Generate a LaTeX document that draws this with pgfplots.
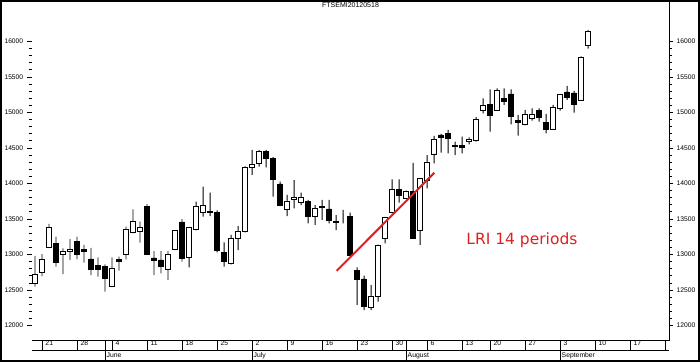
\documentclass[border=0pt]{standalone}
\usepackage{pgfplots}
\pgfplotsset{compat=1.18}
\usepackage{pgfplotstable}
\usepackage{fontspec}
\setmainfont{Liberation Sans}
\newfontfamily\dvs{DejaVu Sans}
\definecolor{lrired}{RGB}{222,32,32}

% i = trading day (18 May 2012 = 0), o h l c
\pgfplotstableread{
i o h l c
0 12594 12979 12546 12721
1 12749 13007 12697 12932
2 13101 13430 13090 13383
3 13158 13251 12828 12885
4 13003 13087 12725 13040
5 13045 13218 12923 13077
6 13190 13251 12932 12997
7 13077 13134 12885 13040
8 12937 13092 12711 12796
9 12852 12961 12687 12796
10 12838 12862 12476 12659
11 12546 12961 12540 12806
12 12935 12969 12772 12905
13 13007 13392 12932 13355
14 13313 13637 13299 13472
15 13327 13462 13166 13383
16 13673 13711 12990 13003
17 12951 13049 12711 12913
18 12923 13049 12735 12828
19 12792 13049 12641 13003
20 13073 13345 13060 13335
21 13458 13500 12899 12941
22 12961 13390 12820 13383
23 13359 13744 13340 13683
24 13594 13955 13532 13697
25 13605 13870 13540 13590
26 13594 13620 13030 13054
27 13031 13172 12828 12899
28 12876 13275 12860 13228
29 13228 13401 13063 13331
30 13321 14240 13310 14228
31 14228 14472 14120 14270
32 14285 14472 14237 14458
33 14448 14472 14228 14355
34 14355 14370 13814 14059
35 13993 14025 13680 13687
36 13637 13838 13542 13754
37 13778 14049 13651 13806
38 13735 13870 13697 13800
39 13744 13768 13440 13532
40 13542 13697 13416 13651
41 13670 13768 13486 13660
42 13641 13768 13440 13476
43 13460 13556 13345 13450
44 13594 13627 13440 13594
45 13542 13589 12980 12993
46 12772 12820 12289 12655
47 12655 12701 12218 12265
48 12256 12570 12218 12416
49 12406 13140 12335 13134
50 13228 13530 13158 13524
51 13594 14059 13580 13918
52 13918 14059 13730 13838
53 13792 13900 13780 13885
54 13885 14289 13220 13228
55 13345 14080 13134 14073
56 14049 14401 13932 14299
57 14416 14669 14285 14622
58 14683 14697 14434 14651
59 14707 14754 14425 14637
60 14530 14589 14401 14525
61 14542 14659 14425 14504
62 14594 14651 14552 14627
63 14603 14933 14590 14904
64 15035 15200 14989 15101
65 15116 15327 14730 14955
66 15035 15341 15030 15307
67 15200 15341 15106 15152
68 15261 15327 14834 14941
69 14894 14965 14673 14862
70 14834 15035 14820 14975
71 14913 15059 14885 14975
72 15025 15059 14871 14927
73 14862 14979 14707 14763
74 14768 15106 14754 15073
75 15054 15261 15025 15247
76 15289 15373 15176 15209
77 15275 15303 14997 15110
78 15176 15790 15165 15778
79 15947 16162 15899 16148
}\candles

\pgfplotsset{
  band/.style={scale only axis, width=637.6pt, xmin=-0.471, xmax=90.61},
  price/.style={band, at={(31.7pt,21.3pt)}, anchor=south west,
    height=338.7pt, ymin=11786, ymax=16556},
  ylab/.style={ytick={12000,12500,...,16000}, minor y tick num=4,
    tick align=outside, scaled y ticks=false,
    yticklabel style={font=\fontsize{6.7}{7}\selectfont,
      /pgf/number format/fixed, /pgf/number format/precision=0,
      /pgf/number format/1000 sep={},
      /pgf/number format/assume math mode=true}},
}

\begin{document}
\begin{tikzpicture}
\useasboundingbox (0,0) rectangle (700pt,362pt);

% candlesticks
\begin{axis}[price, ybar stacked,
  axis x line*=bottom, axis y line=none, ytick=\empty,
  axis line style={black, line width=0.9pt},
  xtick={1,6,11,16,21,26,31,36,41,46,51,56,61,65,70,75,80,85,90},
  xticklabel={\mbox{}}, tick align=outside, major tick length=9.6pt,
  tick style={black, line width=0.9pt}]
\addplot[draw=none, fill=none, bar width=0.66] table[x=i, y=l]{\candles};
\addplot[fill=black, draw=none, bar width=0.14]
  table[x=i, y expr={min(\thisrow{o},\thisrow{c})-\thisrow{l}}]{\candles};
\addplot[fill=white, draw=black, line width=0.9pt, bar width=0.66]
  table[x=i, y expr={max(\thisrow{c}-\thisrow{o},0)}]{\candles};
\addplot[fill=black, draw=black, line width=0.9pt, bar width=0.66]
  table[x=i, y expr={max(\thisrow{o}-\thisrow{c},0)}]{\candles};
\addplot[fill=black, draw=none, bar width=0.14]
  table[x=i, y expr={\thisrow{h}-max(\thisrow{o},\thisrow{c})}]{\candles};
\end{axis}

% left price scale
\begin{axis}[price, ylab, axis x line=none, xtick=\empty,
  axis y line*=left, y axis line style={draw=none},
  major tick length=5pt, minor tick length=3pt,
  tick style={black, line width=0.8pt}]
\addplot[draw=none, forget plot] coordinates {(0,12000)};
\end{axis}

% right price scale, trend line, annotation
\begin{axis}[price, ylab, axis x line=none, xtick=\empty,
  axis y line*=right, axis line style={black, line width=0.9pt},
  major tick length=3.8pt, minor tick length=2.2pt,
  tick style={black, line width=0.8pt},
  title={FTSEMI20120518},
  title style={at={(0.5,1)}, anchor=north, yshift=-3pt,
    font=\fontsize{7}{7}\selectfont}]
\addplot[lrired, line width=2pt] coordinates {(43.1,12770) (57.05,14152)};
\node[text=lrired, anchor=west, inner sep=0pt,
  font=\dvs\fontsize{15.5}{16}\selectfont] at (axis cs:61.6,13204) {LRI 14 periods};
\end{axis}

% date band
\begin{axis}[band, at={(31.7pt,2pt)}, anchor=south west, height=19.3pt,
  ymin=0, ymax=19.3, ytick={9.3}, yticklabel={\mbox{}},
  axis line style={draw=none}, major tick length=0pt,
  xmajorgrids, ymajorgrids,
  grid style={draw=black, line width=0.9pt},
  xtick={10,31,53,75}, xticklabels={June,July,August,September},
  xticklabel style={anchor=base west, inner sep=0pt, xshift=1.5pt, yshift=2.6pt,
    font=\fontsize{6.8}{7}\selectfont},
  extra x ticks={1,6,11,16,21,26,31,36,41,46,51,56,61,65,70,75,80,85},
  extra x tick labels={21,28,4,11,18,25,2,9,16,23,30,6,13,20,27,3,10,17},
  extra x tick style={grid=none, tick label style={anchor=base west, inner sep=0pt,
    xshift=1.8pt, yshift=11.6pt, font=\fontsize{8}{8}\selectfont}}]
\addplot[draw=none, forget plot] coordinates {(0,0)};
\end{axis}

\draw[line width=2pt] (1pt,1pt) rectangle (699pt,361pt);
\end{tikzpicture}
\end{document}
